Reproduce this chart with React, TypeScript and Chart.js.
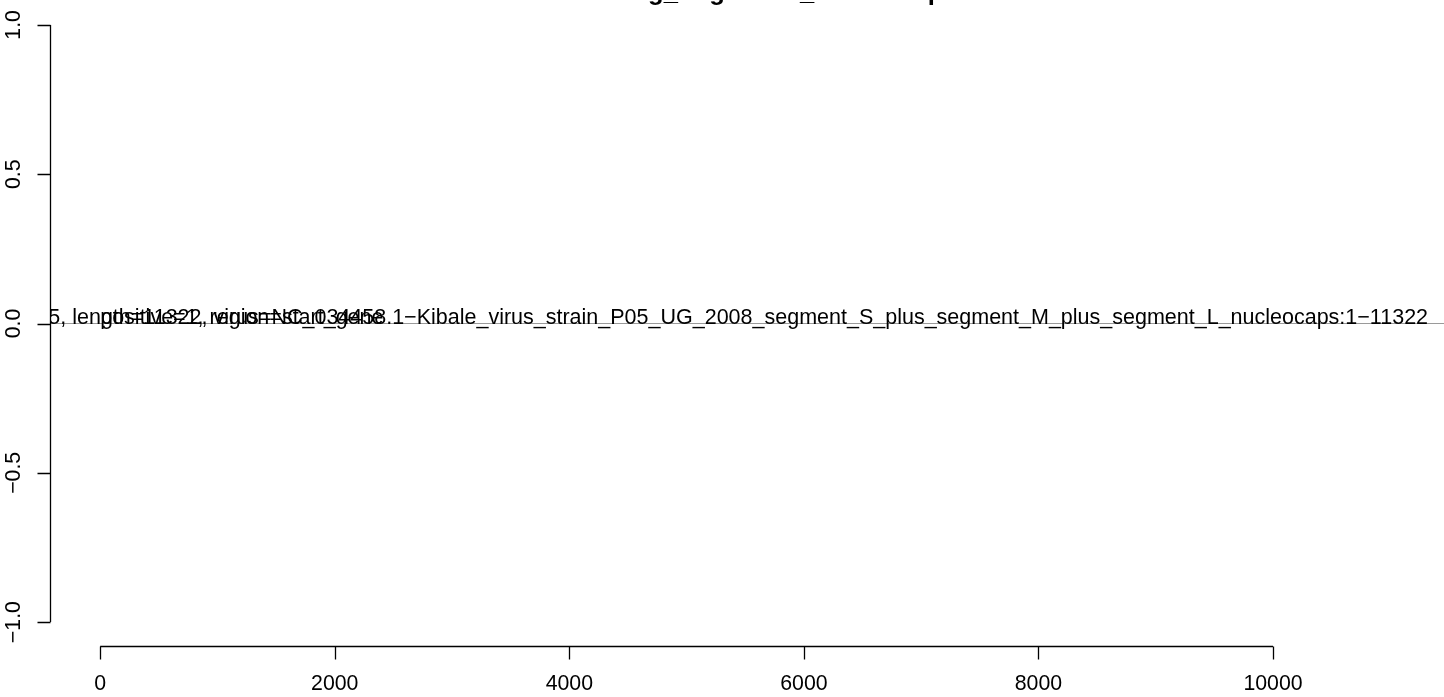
import React, { useEffect, useRef } from "react";
import { Chart, registerables } from "chart.js";

Chart.register(...registerables);

const TITLE = "Coding_Segments_Nucleocapsid";
const X_TICKS = [0, 2000, 4000, 6000, 8000, 10000];
const Y_TICKS = [-1.0, -0.5, 0.0, 0.5, 1.0];
const X_LIMITS = [-428, 11458];
const Y_LIMITS = [-1.08, 1.08];
const SEGMENT_X = [-428, 11458];
const SEGMENT_Y = [0, 0];
const LABEL_TEXTS = [
  "n_ORF=5, length=11322, virus=NC_034458.1\u2212Kibale_virus_strain_P05_UG_2008_segment_S_plus_segment_M_plus_segment_L_nucleocaps:1\u221211322",
  "positive=1, region=start_gene",
];
const LABEL_X = [11322, 0];
const LABEL_Y = [0, 0];
const LABEL_ALIGN: CanvasTextAlign[] = ["right", "left"];

const FONT = '"Liberation Sans", Arial, Helvetica, sans-serif';
const FS = 21.3;
const FS_TEXT = 21.5;

const fmtY = (v: number) => (v < 0 ? "\u2212" : "") + Math.abs(v).toFixed(1);

const rAxesPlugin = {
  id: "rAxes",
  afterDatasetsDraw(chart: any) {
    const { ctx, chartArea, scales } = chart;
    const xs = scales.x;
    const ys = scales.y;
    ctx.save();
    // texts, clipped to plot region
    ctx.save();
    ctx.beginPath();
    ctx.rect(chartArea.left, chartArea.top, chartArea.right - chartArea.left, chartArea.bottom - chartArea.top);
    ctx.clip();
    ctx.fillStyle = "#000";
    ctx.font = `${FS_TEXT}px ${FONT}`;
    ctx.textBaseline = "alphabetic";
    LABEL_TEXTS.forEach((t, i) => {
      ctx.textAlign = LABEL_ALIGN[i];
      ctx.fillText(t, xs.getPixelForValue(LABEL_X[i]), ys.getPixelForValue(LABEL_Y[i]));
    });
    ctx.restore();

    ctx.strokeStyle = "#000";
    ctx.lineWidth = 1.3;
    // x axis
    const xb = chartArea.bottom + 0.5;
    ctx.beginPath();
    ctx.moveTo(xs.getPixelForValue(X_TICKS[0]), xb);
    ctx.lineTo(xs.getPixelForValue(X_TICKS[X_TICKS.length - 1]), xb);
    X_TICKS.forEach((v) => {
      const p = Math.round(xs.getPixelForValue(v)) + 0.5;
      ctx.moveTo(p, xb);
      ctx.lineTo(p, xb + 13);
    });
    ctx.stroke();
    ctx.fillStyle = "#000";
    ctx.font = `${FS}px ${FONT}`;
    ctx.textAlign = "center";
    ctx.textBaseline = "middle";
    X_TICKS.forEach((v) => {
      ctx.fillText(String(v), xs.getPixelForValue(v), xb + 38);
    });
    // y axis
    const yl = chartArea.left + 0.5;
    ctx.beginPath();
    ctx.moveTo(yl, ys.getPixelForValue(Y_TICKS[0]));
    ctx.lineTo(yl, ys.getPixelForValue(Y_TICKS[Y_TICKS.length - 1]));
    Y_TICKS.forEach((v) => {
      const p = Math.round(ys.getPixelForValue(v)) + 0.5;
      ctx.moveTo(yl, p);
      ctx.lineTo(yl - 13, p);
    });
    ctx.stroke();
    Y_TICKS.forEach((v) => {
      ctx.save();
      ctx.translate(yl - 36, ys.getPixelForValue(v));
      ctx.rotate(-Math.PI / 2);
      ctx.fillText(fmtY(v), 0, 0);
      ctx.restore();
    });
    // title (mostly above the visible page, as in the cropped original)
    ctx.font = `bold ${FS * 1.2}px ${FONT}`;
    ctx.textAlign = "center";
    ctx.textBaseline = "alphabetic";
    ctx.fillText(TITLE, chartArea.left + 728, -0.5);
    ctx.restore();
  },
};

export default function App() {
  const ref = useRef<HTMLCanvasElement | null>(null);
  useEffect(() => {
    if (!ref.current) return;
    const chart = new Chart(ref.current, {
      type: "line",
      data: {
        datasets: [
          {
            data: SEGMENT_X.map((x, i) => ({ x, y: SEGMENT_Y[i] })),
            borderColor: "#9a9a9a",
            borderWidth: 1.2,
            pointRadius: 0,
          },
        ],
      },
      options: {
        animation: false,
        responsive: false,
        layout: { padding: { left: 50, right: 0, top: 1, bottom: 51 } },
        scales: {
          x: { type: "linear", min: X_LIMITS[0], max: X_LIMITS[1], display: false },
          y: { type: "linear", min: Y_LIMITS[0], max: Y_LIMITS[1], display: false },
        },
        plugins: { legend: { display: false }, tooltip: { enabled: false }, title: { display: false } },
      },
      plugins: [rAxesPlugin],
    });
    return () => chart.destroy();
  }, []);
  return (
    <div style={{ position: "absolute", left: 0, top: 0, width: 1444, height: 697, background: "#fff" }}>
      <canvas ref={ref} width={1444} height={697} />
    </div>
  );
}
